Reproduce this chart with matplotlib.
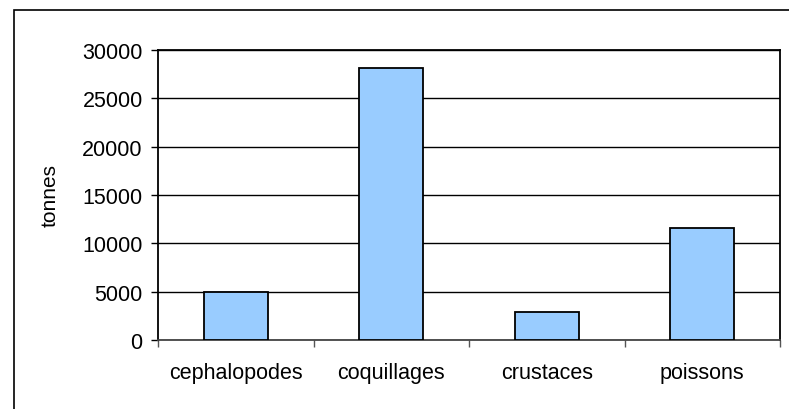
import matplotlib as mpl
mpl.use('Agg')
import matplotlib.pyplot as plt
import matplotlib.patches as mpatches
import numpy as np

categories = ['cephalopodes', 'coquillages', 'crustaces', 'poissons']
tonnes = [5000, 28100, 2850, 11550]
yticks = [0, 5000, 10000, 15000, 20000, 25000, 30000]

plt.rcParams['font.family'] = ['Liberation Sans', 'DejaVu Sans']

fig = plt.figure(figsize=(7.89, 4.10), dpi=100)
ax = fig.add_axes([158 / 789, 1 - 341 / 410, 622 / 789, 290 / 410])

# outer chart border (right and bottom edges fall outside the picture)
fig.patches.append(mpatches.Rectangle((14 / 789, -0.2), 1.2, 1.2 - 11 / 410,
                                      transform=fig.transFigure, fill=False,
                                      edgecolor='black', linewidth=1.2, clip_on=False))

x = np.arange(len(categories))
ax.set_axisbelow(True)
ax.yaxis.grid(True, color='black', linewidth=1.0)
ax.bar(x, tonnes, width=0.41, color='#99ccff', edgecolor='black', linewidth=1.3, zorder=3)

ax.set_xlim(-0.5, len(categories) - 0.5)
ax.set_ylim(0, 30000)
ax.set_yticks(yticks)
ax.set_yticklabels([str(v) for v in yticks])
ax.set_xticks(x)
ax.set_xticklabels(categories)
ax.set_xticks(np.arange(len(categories) + 1) - 0.5, minor=True)

ax.tick_params(axis='y', direction='out', length=5, width=1, labelsize=15.5, pad=6, color='black')
ax.tick_params(axis='x', which='major', length=0, labelsize=15.5, pad=16)
ax.tick_params(axis='x', which='minor', direction='out', length=5, width=1, color='#555555')

for s in ax.spines.values():
    s.set_color('black')
    s.set_linewidth(1.3)
ax.spines['bottom'].set_color('#444444')

ax.set_ylabel('tonnes', fontsize=15)
ax.yaxis.set_label_coords(-0.158, 0.5)

plt.savefig('out.png', dpi=100)
plt.close('all')
